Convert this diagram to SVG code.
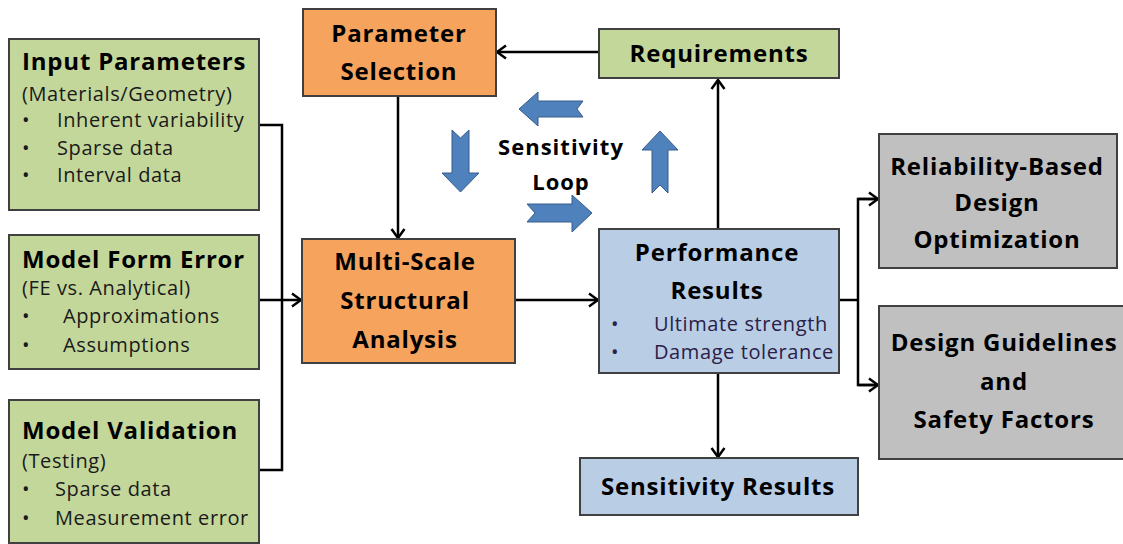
<svg xmlns="http://www.w3.org/2000/svg" width="1123" height="544" viewBox="0 0 1123 544">
<defs>
<style>
.box{stroke:#404040;stroke-width:2}
.green{fill:#c4d79b}
.orange{fill:#f6a35e}
.blue{fill:#b9cde5}
.gray{fill:#c0c0c0}
.t{font-family:"Open Sans",Lato,sans-serif;font-weight:bold;font-size:24px;letter-spacing:0.8px;fill:#000}
.s{font-family:"Open Sans",Lato,sans-serif;font-size:20px;letter-spacing:0.6px;fill:#1a1a1a}
.p{font-family:"Open Sans",Lato,sans-serif;font-size:20px;letter-spacing:0.6px;fill:#2a2048}
.c{text-anchor:middle}
.conn{fill:none;stroke:#000;stroke-width:2.5}
.blk{fill:#4f81bd;stroke:#385d8a;stroke-width:1}
</style>
<marker id="ah" markerUnits="userSpaceOnUse" markerWidth="14" markerHeight="16" viewBox="-12 -8 14 16" refX="0" refY="0" orient="auto">
<path d="M-9,-6.5 L0,0 L-9,6.5" fill="none" stroke="#000" stroke-width="2.5"/>
</marker>
</defs>

<g id="connectors">
<path class="conn" d="M599,52 H497" marker-end="url(#ah)"/>
<path class="conn" d="M398,96 V238" marker-end="url(#ah)"/>
<path class="conn" d="M515,300 H598" marker-end="url(#ah)"/>
<path class="conn" d="M718,229 V80" marker-end="url(#ah)"/>
<path class="conn" d="M718,373 V457" marker-end="url(#ah)"/>
<path class="conn" d="M259,125 H282 V470 H259"/>
<path class="conn" d="M259,300 H301" marker-end="url(#ah)"/>
<path class="conn" d="M839,300 H858"/>
<path class="conn" d="M877,199 H858 V385 H877" />
<path class="conn" d="M858,199 H878" marker-end="url(#ah)"/>
<path class="conn" d="M858,385 H878" marker-end="url(#ah)"/>
</g>

<g id="sensitivity-loop">
<path class="blk" d="M519,109 L538,92 L538,101 L583,101 L577,109 L583,117 L538,117 L538,126 Z"/>
<path class="blk" d="M442,173 L452,173 L452,130 L460.5,138 L469,130 L469,173 L479,173 L460.5,192 Z"/>
<path class="blk" d="M642,150 L660,131 L678,150 L668,150 L668,193 L660,185 L652,193 L652,150 Z"/>
<path class="blk" d="M527,204 L572,204 L572,195 L592,213 L572,232 L572,222 L527,222 L535,213 Z"/>
<text class="t c" x="561" y="155" style="font-size:22px;letter-spacing:1px">Sensitivity</text>
<text class="t c" x="561" y="190" style="font-size:22px;letter-spacing:1px">Loop</text>
</g>

<g id="input-parameters">
<rect class="box green" x="9" y="39" width="250" height="171"/>
<text class="t" x="22" y="70">Input Parameters</text>
<text class="s" x="22" y="101">(Materials/Geometry)</text>
<text class="s" x="22" y="127">•</text><text class="s" x="57" y="127">Inherent variability</text>
<text class="s" x="22" y="155">•</text><text class="s" x="57" y="155">Sparse data</text>
<text class="s" x="22" y="182">•</text><text class="s" x="57" y="182">Interval data</text>
</g>

<g id="model-form-error">
<rect class="box green" x="9" y="235" width="250" height="134"/>
<text class="t" x="22" y="268">Model Form Error</text>
<text class="s" x="22" y="295">(FE vs. Analytical)</text>
<text class="s" x="22" y="323">•</text><text class="s" x="63" y="323">Approximations</text>
<text class="s" x="22" y="352">•</text><text class="s" x="63" y="352">Assumptions</text>
</g>

<g id="model-validation">
<rect class="box green" x="9" y="400" width="250" height="143"/>
<text class="t" x="22" y="439">Model Validation</text>
<text class="s" x="22" y="468">(Testing)</text>
<text class="s" x="22" y="496">•</text><text class="s" x="55" y="496">Sparse data</text>
<text class="s" x="22" y="525">•</text><text class="s" x="55" y="525">Measurement error</text>
</g>

<g id="parameter-selection">
<rect class="box orange" x="303" y="9" width="193" height="87"/>
<text class="t c" x="399" y="42">Parameter</text>
<text class="t c" x="399" y="80">Selection</text>
</g>

<g id="requirements">
<rect class="box green" x="599" y="29" width="240" height="49"/>
<text class="t c" x="719" y="62">Requirements</text>
</g>

<g id="multi-scale">
<rect class="box orange" x="302" y="239" width="213" height="124"/>
<text class="t c" x="405" y="270">Multi-Scale</text>
<text class="t c" x="405" y="309">Structural</text>
<text class="t c" x="405" y="348">Analysis</text>
</g>

<g id="performance-results">
<rect class="box blue" x="599" y="229" width="240" height="144"/>
<text class="t c" x="717" y="261">Performance</text>
<text class="t c" x="717" y="299">Results</text>
<text class="p" x="611" y="331">•</text><text class="p" x="654" y="331">Ultimate strength</text>
<text class="p" x="611" y="359">•</text><text class="p" x="654" y="359">Damage tolerance</text>
</g>

<g id="sensitivity-results">
<rect class="box blue" x="580" y="458" width="278" height="57"/>
<text class="t c" x="718" y="495">Sensitivity Results</text>
</g>

<g id="rbdo">
<rect class="box gray" x="879" y="134" width="238" height="134"/>
<text class="t c" x="997" y="175">Reliability-Based</text>
<text class="t c" x="997" y="211">Design</text>
<text class="t c" x="997" y="248">Optimization</text>
</g>

<g id="design-guidelines">
<rect class="box gray" x="879" y="306" width="250" height="153"/>
<text class="t c" x="1004" y="351">Design Guidelines</text>
<text class="t c" x="1004" y="390">and</text>
<text class="t c" x="1004" y="428">Safety Factors</text>
</g>
</svg>
